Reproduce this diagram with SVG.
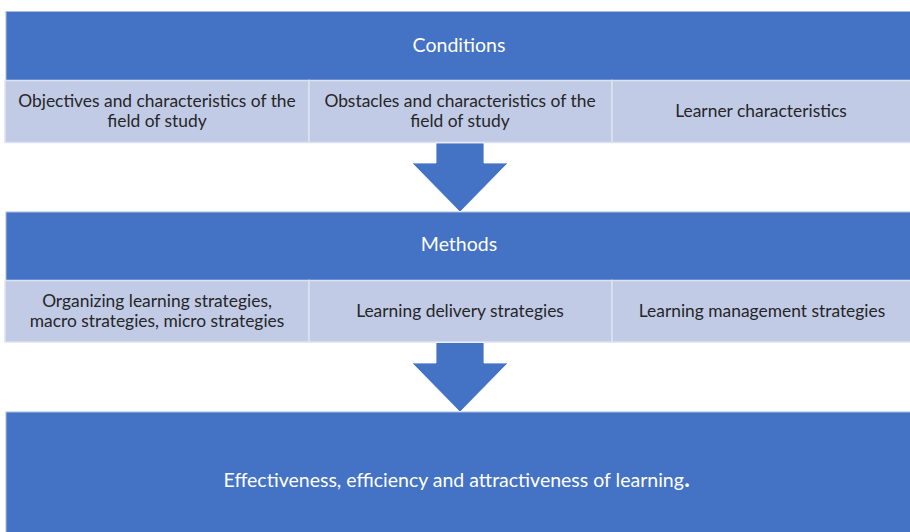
<svg xmlns="http://www.w3.org/2000/svg" width="910" height="532" viewBox="0 0 910 532">
  <style>
    .band { fill: #4472C4; stroke: #A9BCE2; stroke-width: 1; }
    .cell { fill: #C1CBE6; stroke: #DCE2F1; stroke-width: 1.5; }
    .arrow { fill: #4472C4; stroke: #FFFFFF; stroke-width: 0.8; }
    .head { font-family: Lato, "Liberation Sans", sans-serif; font-size: 19.5px; fill: #FFFFFF; text-anchor: middle; }
    .sub { font-family: Lato, "Liberation Sans", sans-serif; font-size: 17.4px; fill: #262626; text-anchor: middle; }
  </style>
  <rect width="910" height="532" fill="#FFFFFF"/>

  <!-- Conditions block -->
  <g id="conditions">
    <rect class="band" x="6" y="11.5" width="905" height="69"/>
    <text class="head" x="459" y="52">Conditions</text>
  </g>
  <g id="cond-objectives">
    <rect class="cell" x="5" y="80.5" width="304" height="62"/>
    <text class="sub" x="157" y="107">Objectives and characteristics of the</text>
    <text class="sub" x="157" y="127">field of study</text>
  </g>
  <g id="cond-obstacles">
    <rect class="cell" x="309" y="80.5" width="303" height="62"/>
    <text class="sub" x="460" y="107">Obstacles and characteristics of the</text>
    <text class="sub" x="460" y="127">field of study</text>
  </g>
  <g id="cond-learner">
    <rect class="cell" x="612" y="80.5" width="299" height="62"/>
    <text class="sub" x="761" y="117">Learner characteristics</text>
  </g>

  <!-- Methods block -->
  <g id="methods">
    <rect class="band" x="6" y="212" width="905" height="68.5"/>
    <text class="head" x="459" y="251">Methods</text>
  </g>
  <g id="meth-organizing">
    <rect class="cell" x="5" y="280.5" width="304" height="61.5"/>
    <text class="sub" x="157" y="307">Organizing learning strategies,</text>
    <text class="sub" x="157" y="327">macro strategies, micro strategies</text>
  </g>
  <g id="meth-delivery">
    <rect class="cell" x="309" y="280.5" width="303" height="61.5"/>
    <text class="sub" x="460" y="317">Learning delivery strategies</text>
  </g>
  <g id="meth-management">
    <rect class="cell" x="612" y="280.5" width="299" height="61.5"/>
    <text class="sub" x="762" y="317">Learning management strategies</text>
  </g>

  <!-- Outcome block -->
  <g id="outcome">
    <rect class="band" x="6" y="412" width="905" height="121"/>
    <text class="head" x="457" y="487">Effectiveness, efficiency and attractiveness of learning<tspan font-size="28px">.</tspan></text>
  </g>

  <!-- Connectors -->
  <g id="connectors">
    <path class="arrow" d="M436,143 L484,143 L484,163 L508,163 L460,212 L412,163 L436,163 Z"/>
    <path class="arrow" d="M436,342.5 L484,342.5 L484,363 L508,363 L460,412 L412,363 L436,363 Z"/>
  </g>
</svg>
